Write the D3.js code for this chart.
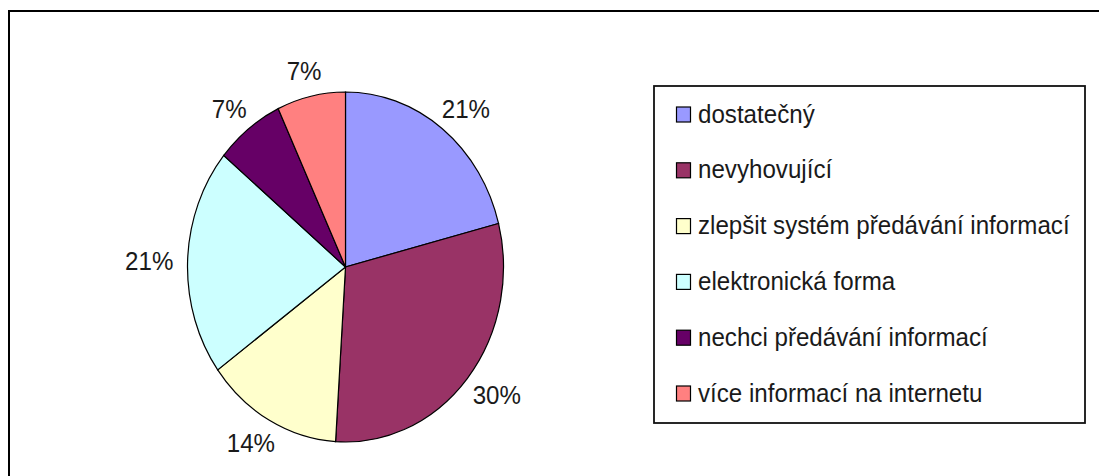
<!DOCTYPE html>
<html>
<head>
<meta charset="utf-8">
<script src="https://cdn.jsdelivr.net/npm/d3@7"></script>
<style>
  html, body { margin: 0; padding: 0; background: #ffffff; }
  svg { display: block; }
  text { font-family: "Liberation Sans", Arial, sans-serif; fill: #1a1a1a; }
</style>
</head>
<body>
<svg id="chart" width="1099" height="476"></svg>
<script>
// Answer categories (legend order = slice order, clockwise from 12 o'clock)
const categories = [
  "dostatečný",
  "nevyhovující",
  "zlepšit systém předávání informací",
  "elektronická forma",
  "nechci předávání informací",
  "více informací na internetu"
];
// Share of answers, in percent
const shares = [21, 30, 14, 21, 7, 7];
const sliceColors = ["#9999ff", "#993366", "#ffffcc", "#ccffff", "#660066", "#ff8080"];

const svg = d3.select("#chart");
const W = 1099, H = 476;

// Text is drawn slightly stretched, like the rest of the figure
const textSX = 1.05, textSY = 1.15;
const textScale = `scale(${textSX},${textSY})`;
const fontSize = 23;

// Chart frame (only top and left edges fall inside the view)
svg.append("rect")
  .attr("x", 9).attr("y", 11)
  .attr("width", W + 20).attr("height", H + 20)
  .attr("fill", "#ffffff")
  .attr("stroke", "#000").attr("stroke-width", 2);

// Pie: drawn as a circle, squashed into an ellipse
const cx = 345.5, cy = 267, rx = 158, ry = 175;
const sy = ry / rx;

const pie = d3.pie().value(d => d).sort(null);
const arcs = pie(shares);
const arc = d3.arc().innerRadius(0).outerRadius(rx);

const gPie = svg.append("g")
  .attr("transform", `translate(${cx},${cy}) scale(1,${sy})`);

gPie.selectAll("path")
  .data(arcs)
  .join("path")
  .attr("d", arc)
  .attr("fill", (d, i) => sliceColors[i])
  .attr("stroke", "#000")
  .attr("stroke-width", 1.2)
  .attr("vector-effect", "non-scaling-stroke");

// Percentage labels outside each slice
const labelR = 1.09;
const fmt = v => `${v}%`;
const gLab = svg.append("g");
arcs.forEach((d, i) => {
  const a = (d.startAngle + d.endAngle) / 2;
  const s = Math.sin(a), c = Math.cos(a);
  const g = gLab.append("g");
  const t = g.append("text")
    .attr("font-size", fontSize)
    .attr("text-anchor", "middle")
    .attr("y", 8)
    .text(fmt(shares[i]));
  const hw = t.node().getBBox().width * textSX / 2, hh = 10;
  const x = cx + labelR * rx * s + hw * s;
  const y = cy - labelR * ry * c - hh * c;
  g.attr("transform", `translate(${x},${y}) ${textScale}`);
});

// Legend
const lg = { x: 654, y: 86, w: 431, h: 337, row0: 114.5, step: 55.8, sw: 14, sh: 15 };
svg.append("rect")
  .attr("x", lg.x).attr("y", lg.y)
  .attr("width", lg.w).attr("height", lg.h)
  .attr("fill", "#ffffff")
  .attr("stroke", "#111").attr("stroke-width", 1.8);

const rows = svg.append("g").selectAll("g")
  .data(categories)
  .join("g")
  .attr("transform", (d, i) => `translate(0,${lg.row0 + i * lg.step})`);

rows.append("rect")
  .attr("x", 676.5).attr("y", -lg.sh / 2)
  .attr("width", lg.sw).attr("height", lg.sh)
  .attr("fill", (d, i) => sliceColors[i])
  .attr("stroke", "#000").attr("stroke-width", 1.2);

rows.append("g")
  .attr("transform", `translate(698,8) ${textScale}`)
  .append("text")
  .attr("font-size", fontSize)
  .text(d => d);
</script>
</body>
</html>
